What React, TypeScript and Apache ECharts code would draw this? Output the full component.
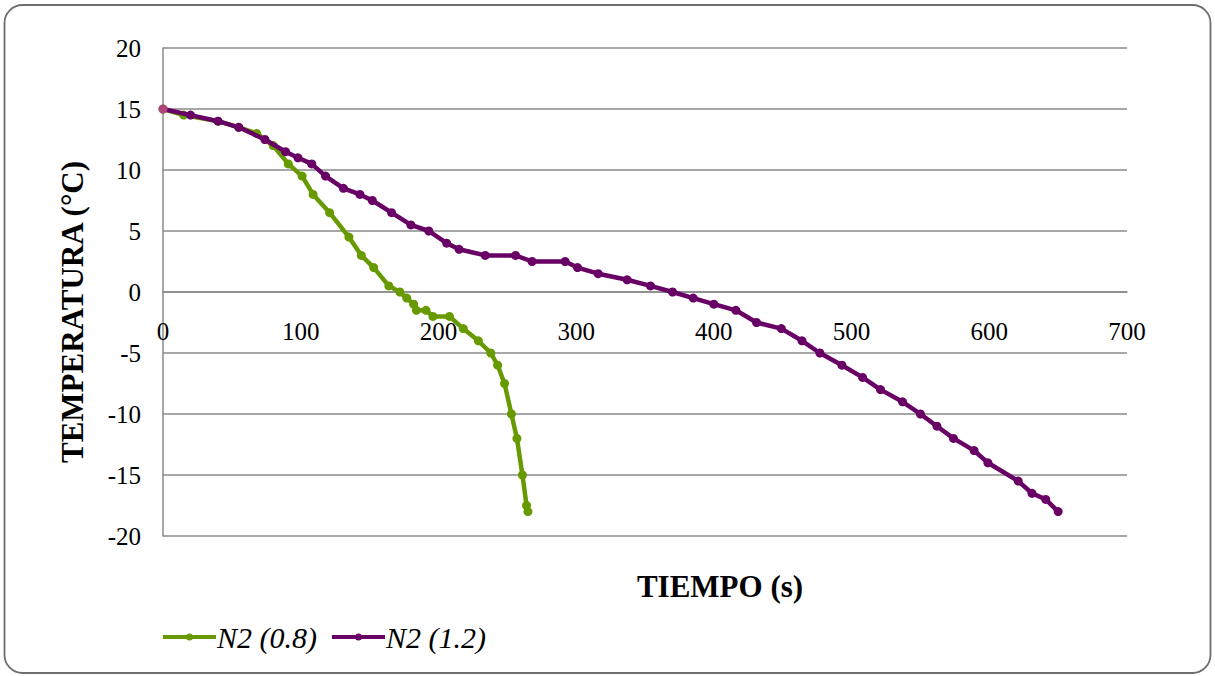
import React, { useEffect, useRef } from "react";
import * as echarts from "echarts";

const xTicks = [0, 100, 200, 300, 400, 500, 600, 700];
const yTicks = [-20, -15, -10, -5, 0, 5, 10, 15, 20];

const seriesNames = ["N2 (0.8)", "N2 (1.2)"];

const n08Time = [0, 15, 40, 55, 68, 80, 91, 101, 109, 121, 135, 144, 153, 164, 172, 177, 182, 184, 191, 196, 208, 218, 229, 238, 243, 248, 253, 257, 261, 264, 265];
const n08Temp = [15, 14.5, 14, 13.5, 13, 12, 10.5, 9.5, 8, 6.5, 4.5, 3, 2, 0.5, 0, -0.5, -1, -1.5, -1.5, -2, -2, -3, -4, -5, -6, -7.5, -10, -12, -15, -17.5, -18];

const n12Time = [0, 20, 40, 55, 74, 89, 98, 108, 118, 131, 143, 152, 166, 180, 193, 206, 215, 234, 256, 268, 292, 301, 316, 337, 354, 370, 385, 400, 416, 431, 449, 464, 477, 493, 508, 521, 537, 550, 562, 574, 589, 599, 621, 631, 641, 650];
const n12Temp = [15, 14.5, 14, 13.5, 12.5, 11.5, 11, 10.5, 9.5, 8.5, 8, 7.5, 6.5, 5.5, 5, 4, 3.5, 3, 3, 2.5, 2.5, 2, 1.5, 1, 0.5, 0, -0.5, -1, -1.5, -2.5, -3, -4, -5, -6, -7, -8, -9, -10, -11, -12, -13, -14, -15.5, -16.5, -17, -18];

const FONT = "'Liberation Serif', 'Times New Roman', serif";
const LEGEND_ICON =
  "path://M0,3 L53,3 L53,7 L0,7 Z M23,5 A3.5,3.5 0 1,1 30,5 A3.5,3.5 0 1,1 23,5 Z";

export default function App() {
  const ref = useRef<HTMLDivElement>(null);
  useEffect(() => {
    if (!ref.current) return;
    const chart = echarts.init(ref.current, undefined, { renderer: "svg" });
    const greenData = n08Time.map((t, i) => [t, n08Temp[i]]);
    const purpleData: any[] = n12Time.map((t, i) => [t, n12Temp[i]]);
    purpleData[0] = { value: purpleData[0], itemStyle: { color: "#b0457a" } };
    chart.setOption({
      animation: false,
      backgroundColor: "#ffffff",
      textStyle: { fontFamily: FONT },
      grid: { left: 163, right: 88, top: 48, bottom: 140, containLabel: false },
      xAxis: {
        type: "value",
        min: xTicks[0],
        max: xTicks[xTicks.length - 1],
        interval: 100,
        position: "bottom",
        offset: -244,
        axisLine: { show: true, onZero: false, lineStyle: { color: "#8a8a8a", width: 1.5 } },
        axisTick: { show: false },
        splitLine: { show: false },
        axisLabel: { color: "#000", fontSize: 25, fontFamily: FONT, margin: 27 },
      },
      yAxis: {
        type: "value",
        min: yTicks[0],
        max: yTicks[yTicks.length - 1],
        interval: 5,
        axisLine: { show: true, lineStyle: { color: "#8a8a8a", width: 1.5 } },
        axisTick: { show: false },
        splitLine: { show: true, lineStyle: { color: "#8a8a8a", width: 1.5 } },
        axisLabel: { color: "#000", fontSize: 25, fontFamily: FONT, margin: 22 },
      },
      legend: {
        left: 158,
        top: 617,
        itemWidth: 53,
        itemHeight: 7,
        itemGap: 15,
        icon: LEGEND_ICON,
        textStyle: { fontSize: 30, fontStyle: "italic", fontFamily: FONT, color: "#000", padding: [0, 0, 0, -4] },
        data: seriesNames,
      },
      graphic: [
        {
          type: "rect",
          shape: { x: 4.5, y: 5, width: 1206, height: 668, r: 18 },
          style: { fill: "none", stroke: "#6e6e6e", lineWidth: 1.8 },
          silent: true,
          z: -1,
        },
        {
          type: "text",
          x: 720,
          y: 586,
          style: { text: "TIEMPO (s)", font: `bold 31px ${FONT}`, fill: "#000", align: "center", verticalAlign: "middle" },
        },
        {
          type: "text",
          x: 72,
          y: 312,
          rotation: Math.PI / 2,
          style: { text: "TEMPERATURA (°C)", font: `bold 31px ${FONT}`, fill: "#000", align: "center", verticalAlign: "middle" },
        },
      ],
      series: [
        {
          name: seriesNames[0],
          type: "line",
          data: greenData,
          color: "#679a00",
          symbol: "circle",
          symbolSize: 9,
          lineStyle: { width: 4.5, color: "#679a00" },
          itemStyle: { color: "#679a00" },
          z: 2,
        },
        {
          name: seriesNames[1],
          type: "line",
          data: purpleData,
          color: "#680066",
          symbol: "circle",
          symbolSize: 9,
          lineStyle: { width: 4.5, color: "#680066" },
          itemStyle: { color: "#680066" },
          z: 3,
        },
      ],
    });
    return () => chart.dispose();
  }, []);
  return (
    <div
      ref={ref}
      style={{ position: "fixed", left: 0, top: 0, width: 1215, height: 676, background: "#fff" }}
    />
  );
}
